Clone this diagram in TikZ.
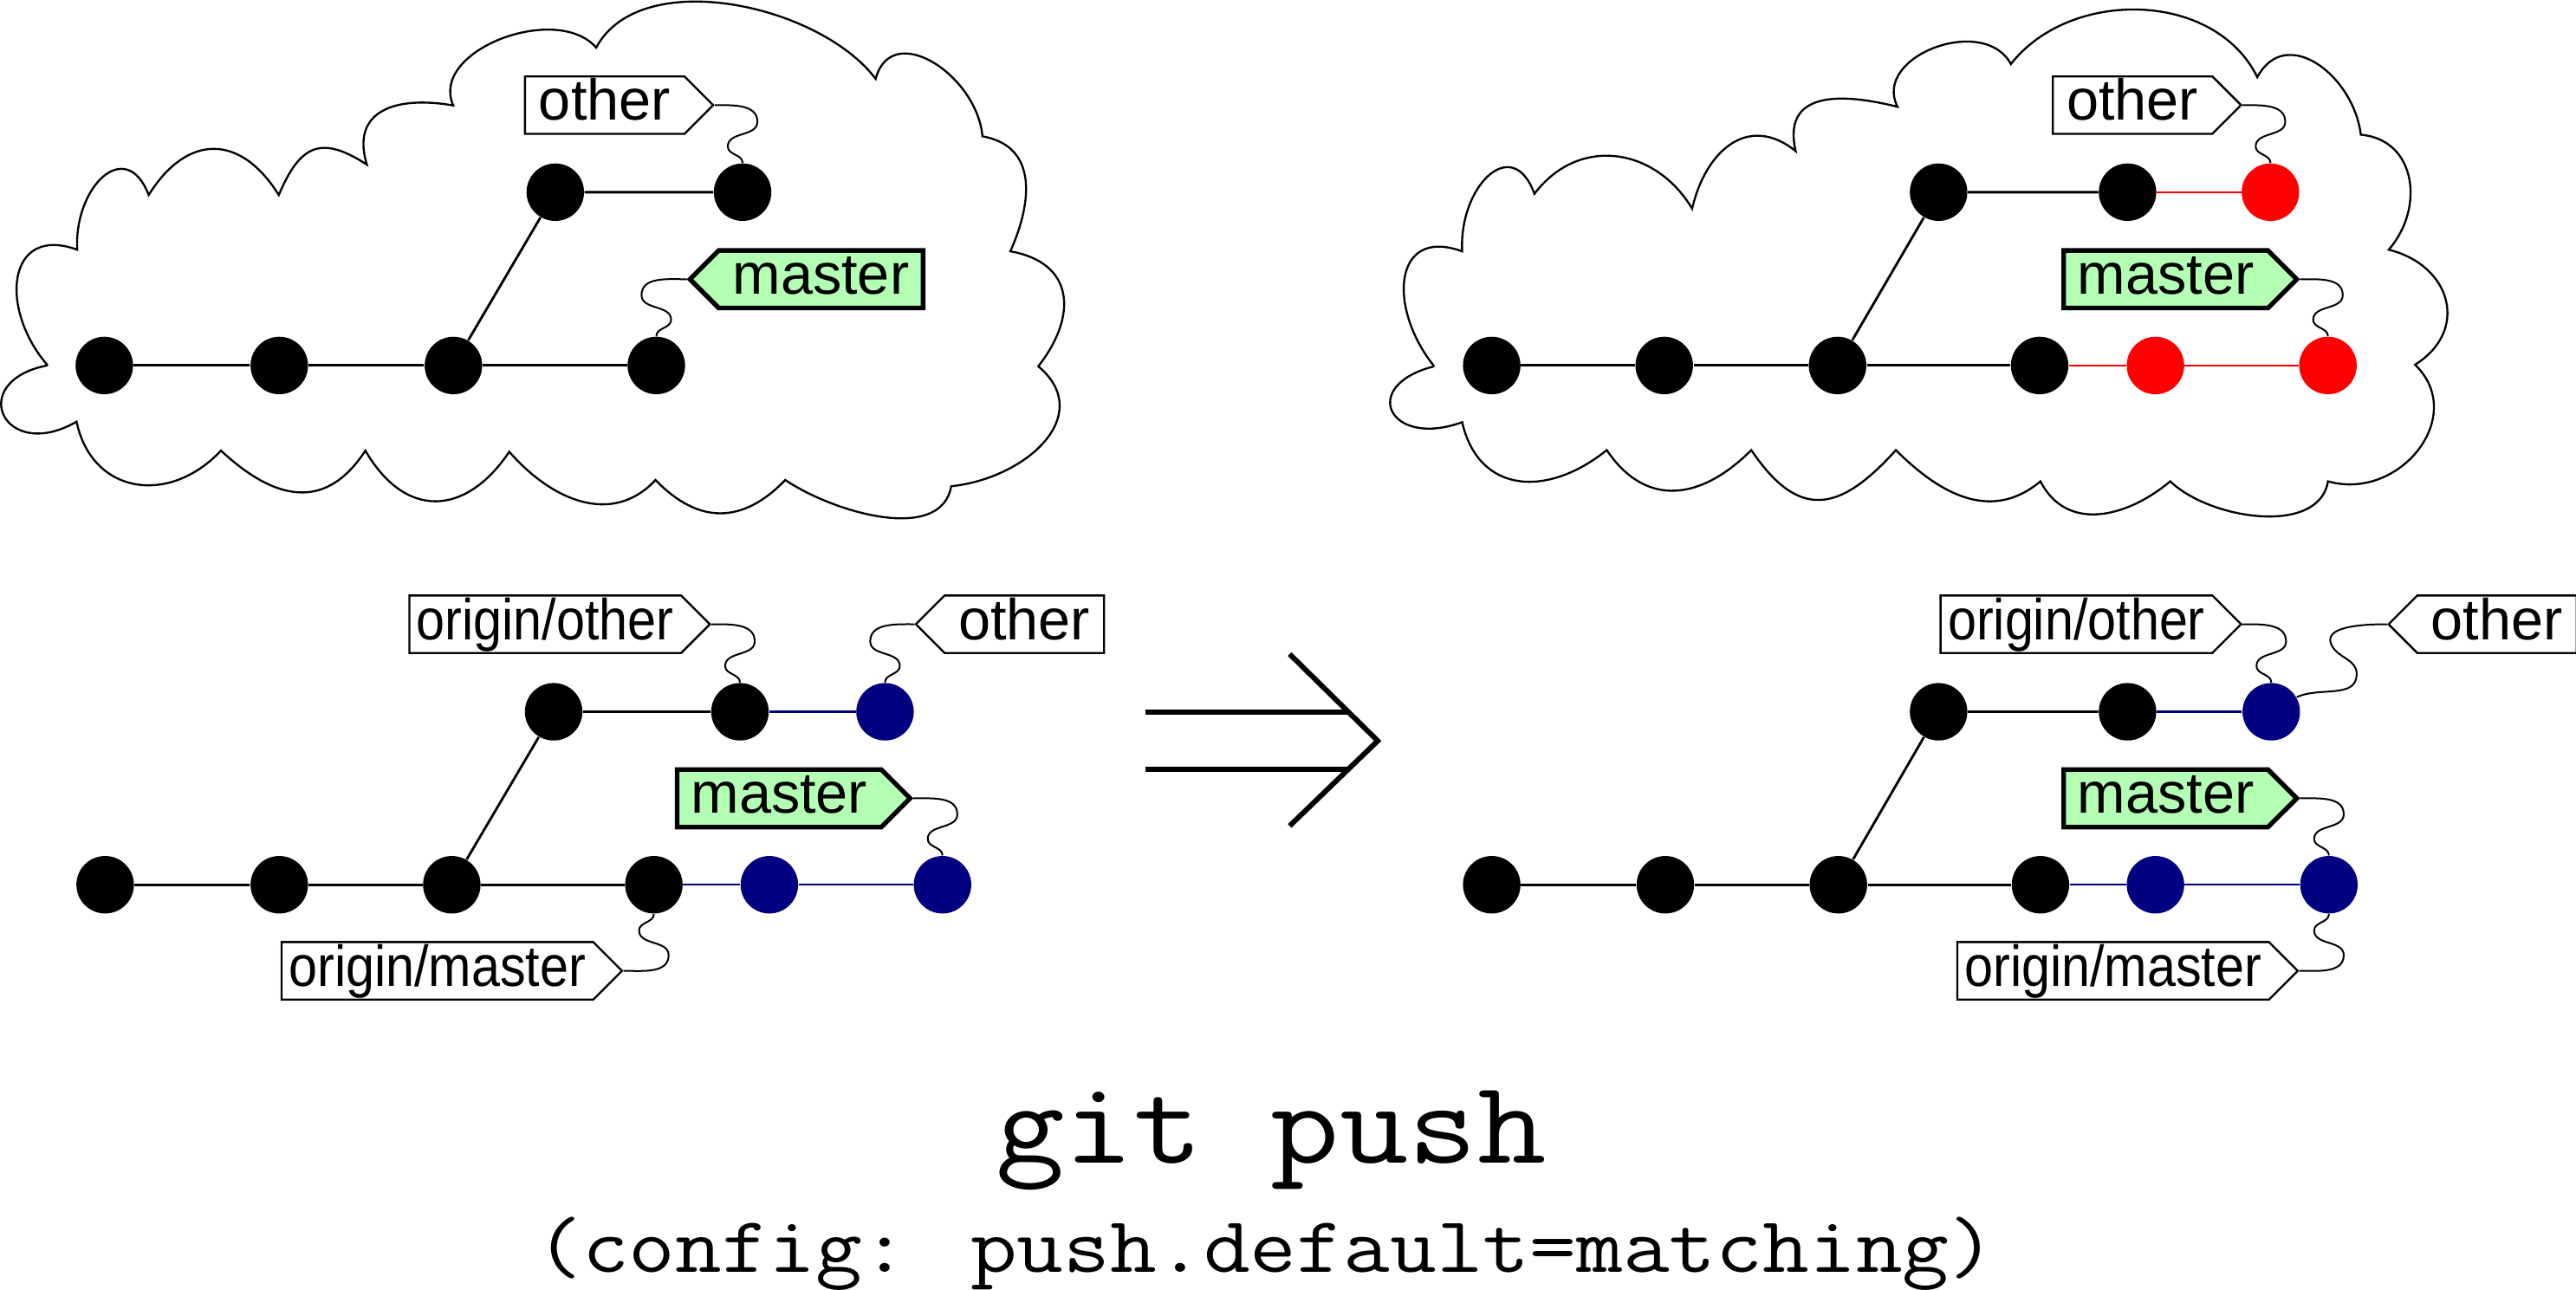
\documentclass[tikz,border=0pt]{standalone}
\usepackage{fontspec}
\usepackage{graphicx}
\usetikzlibrary{shapes.symbols,calc}
\newfontfamily\lblfont{Liberation Sans}
\definecolor{headgreen}{RGB}{179,255,179}
\definecolor{pushnavy}{RGB}{0,0,128}
\definecolor{newred}{RGB}{255,0,0}
\tikzset{
  commit/.style={circle,fill=black,inner sep=0pt,minimum size=0.7cm},
  lbl/.style={signal,draw,fill=white,line width=0.7pt,inner xsep=0.17cm,inner ysep=0pt,
    minimum height=0.7cm,text height=14.5pt,text depth=4pt,font=\lblfont\fontsize{20}{24}\selectfont},
  head/.style={lbl,fill=headgreen,line width=1.6pt},
  wire/.style={line width=0.6pt},
  edge/.style={line width=0.85pt},
  cloudline/.style={line width=0.7pt},
  lobe/.style n args={3}{out=#1,in=#2,looseness=#3},
}
\newcommand{\orig}[1]{\scalebox{0.89}[1]{#1}}
\newcommand{\tagright}[2]{\draw[wire] (#1.east) to[out=0,in=90] ($(#2.north)+(9,25)$)
  to[out=-90,in=90] ($(#2.north)+(-9,10)$) to[out=-90,in=90] (#2.north);}
\newcommand{\tagleft}[2]{\draw[wire] (#1.west) to[out=180,in=90] ($(#2.north)+(-9,25)$)
  to[out=-90,in=90] ($(#2.north)+(9,10)$) to[out=-90,in=90] (#2.north);}
\newcommand{\tagbelow}[2]{\draw[wire] (#2.south) to[out=-90,in=90] ($(#2.south)+(-9,-10)$)
  to[out=-90,in=90] ($(#2.south)+(9,-25)$) to[out=-90,in=0] (#1.east);}
\begin{document}
\begin{tikzpicture}[x=0.02cm,y=0.02cm]
\useasboundingbox (0,0) rectangle (1568,-785.3);
% remote, before
\draw[cloudline] (29,-222.4) to[lobe={131}{160}{1.6}] (47,-152) to[lobe={93}{111}{1.8}] (90.5,-118.7)
  to[lobe={58}{122}{1.43}] (169.7,-118.7) to[lobe={67}{147}{1.5}] (223.3,-100.2)
  to[lobe={107}{170}{1.4}] (275.9,-64.2) to[lobe={114}{131}{1}] (362.9,-29)
  to[lobe={62}{127}{0.85}] (533,-48) to[lobe={75}{95}{1.3}] (598,-83)
  to[lobe={-10}{66}{1.2}] (615,-153) to[lobe={-10}{52}{1.4}] (632,-223)
  to[lobe={-40}{6}{1.3}] (579,-296) to[lobe={-100}{-34}{0.9}] (478,-292.2)
  to[lobe={-134}{-46}{1.22}] (399,-292.2) to[lobe={-133}{-49}{1.1}] (310,-275)
  to[lobe={-124}{-60}{1.4}] (222.4,-274.3) to[lobe={-123}{-43}{1.3}] (134.5,-274.3)
  to[lobe={-133}{-78}{1.3}] (46.6,-256.7) to[lobe={-150}{-169}{3.4}] (29,-222.4);
% remote, after
\draw[cloudline] (873,-223) to[lobe={129}{160}{1.6}] (890,-153) to[lobe={93}{110}{1.8}] (934,-118)
  to[lobe={53}{121}{1.17}] (1030,-127) to[lobe={77}{141}{1.3}] (1093,-92)
  to[lobe={103}{166}{1.4}] (1155,-65) to[lobe={117}{118}{1.2}] (1224,-39)
  to[lobe={52}{116}{1.0}] (1374,-47) to[lobe={62}{97}{1.3}] (1437,-82)
  to[lobe={-5}{49}{1.2}] (1454,-152) to[lobe={-14}{32}{1.4}] (1470,-222)
  to[lobe={-44}{-16}{1.3}] (1417,-293) to[lobe={-99}{-44}{0.9}] (1321,-293)
  to[lobe={-140}{-63}{1.13}] (1242,-293) to[lobe={-140}{-45}{1.1}] (1154,-274)
  to[lobe={-132}{-56}{1.5}] (1066,-274) to[lobe={-135}{-56}{1.25}] (978,-274)
  to[lobe={-141}{-77}{1.3}] (890,-257) to[lobe={-160}{-166}{3.2}] (873,-223);

\node[commit] (tla1) at (63.5,-222.5) {};
\node[commit] (tla2) at (170,-222.5) {};
\node[commit] (tla3) at (276,-222.5) {};
\node[commit] (tla4) at (399.5,-222.5) {};
\node[commit] (tlb1) at (338,-117) {};
\node[commit] (tlb2) at (452,-117) {};
\draw[edge] (tla1) -- (tla2) -- (tla3) -- (tla4);
\draw[edge] (tla3) -- (tlb1) -- (tlb2);
\node[lbl,signal to=east,anchor=east] (tlother) at (435,-64) {other};
\node[head,signal to=west,anchor=west] (tlmaster) at (418,-170) {master};
\tagright{tlother}{tlb2}
\tagleft{tlmaster}{tla4}

\node[commit] (tra1) at (908,-222.5) {};
\node[commit] (tra2) at (1013,-222.5) {};
\node[commit] (tra3) at (1118.5,-222.5) {};
\node[commit] (tra4) at (1241.5,-222.5) {};
\node[commit,fill=newred] (tra5) at (1312,-222.5) {};
\node[commit,fill=newred] (tra6) at (1417,-222.5) {};
\node[commit] (trb1) at (1180,-117) {};
\node[commit] (trb2) at (1295,-117) {};
\node[commit,fill=newred] (trb3) at (1382,-117) {};
\draw[edge] (tra1) -- (tra2) -- (tra3) -- (tra4);
\draw[edge] (tra3) -- (trb1) -- (trb2);
\draw[line width=0.7pt,newred] (tra4) -- (tra5) -- (tra6);
\draw[line width=0.7pt,newred] (trb2) -- (trb3);
\node[lbl,signal to=east,anchor=east] (trother) at (1365,-64) {other};
\node[head,signal to=east,anchor=east] (trmaster) at (1400,-170) {master};
\tagright{trother}{trb3}
\tagright{trmaster}{tra6}

% local, before
\node[commit] (bla1) at (64,-538.6) {};
\node[commit] (bla2) at (170,-538.6) {};
\node[commit] (bla3) at (275,-538.6) {};
\node[commit] (bla4) at (398,-538.6) {};
\node[commit,fill=pushnavy] (bla5) at (468.3,-538.6) {};
\node[commit,fill=pushnavy] (bla6) at (573.7,-538.6) {};
\node[commit] (blb1) at (337,-433.3) {};
\node[commit] (blb2) at (450.4,-433.3) {};
\node[commit,fill=pushnavy] (blb3) at (538.7,-433.3) {};
\draw[edge] (bla1) -- (bla2) -- (bla3) -- (bla4);
\draw[edge] (bla3) -- (blb1) -- (blb2);
\draw[line width=0.7pt,pushnavy] (bla4) -- (bla5) -- (bla6);
\draw[line width=0.7pt,pushnavy] (blb2) -- (blb3);
\node[lbl,signal to=east,anchor=east,inner xsep=0.09cm] (blorigother) at (433,-380) {\orig{origin/other}};
\node[lbl,signal to=west,anchor=west] (blother) at (556.6,-380) {other};
\node[head,signal to=east,anchor=east] (blmaster) at (556,-486) {master};
\node[lbl,signal to=east,anchor=east,inner xsep=0.09cm] (blorigmaster) at (379.5,-591) {\orig{origin/master}};
\tagright{blorigother}{blb2}
\tagleft{blother}{blb3}
\tagright{blmaster}{bla6}
\tagbelow{blorigmaster}{bla4}

% local, after
\node[commit] (bra1) at (908,-538.6) {};
\node[commit] (bra2) at (1013.7,-538.6) {};
\node[commit] (bra3) at (1119,-538.6) {};
\node[commit] (bra4) at (1242,-538.6) {};
\node[commit,fill=pushnavy] (bra5) at (1312,-538.6) {};
\node[commit,fill=pushnavy] (bra6) at (1417.6,-538.6) {};
\node[commit] (brb1) at (1180,-433.3) {};
\node[commit] (brb2) at (1295,-433.3) {};
\node[commit,fill=pushnavy] (brb3) at (1382.5,-433.3) {};
\draw[edge] (bra1) -- (bra2) -- (bra3) -- (bra4);
\draw[edge] (bra3) -- (brb1) -- (brb2);
\draw[line width=0.7pt,pushnavy] (bra4) -- (bra5) -- (bra6);
\draw[line width=0.7pt,pushnavy] (brb2) -- (brb3);
\node[lbl,signal to=east,anchor=east,inner xsep=0.09cm] (brorigother) at (1365,-380) {\orig{origin/other}};
\node[lbl,signal to=west,anchor=west] (brother) at (1453,-380) {other};
\node[head,signal to=east,anchor=east] (brmaster) at (1400,-486) {master};
\node[lbl,signal to=east,anchor=east,inner xsep=0.09cm] (brorigmaster) at (1399.5,-591) {\orig{origin/master}};
\tagright{brorigother}{brb3}
\draw[wire] (brother.west) to[out=180,in=120] ($(brb3.center)+(37,40)$)
  to[out=-60,in=90] ($(brb3.center)+(52,23)$) to[out=-90,in=25] (brb3.30);
\tagright{brmaster}{bra6}
\tagbelow{brorigmaster}{bra6}

% the push
\draw[line width=1.8pt] (697,-433.4) -- (820.7,-433.4);
\draw[line width=1.8pt] (697,-468.5) -- (820.7,-468.5);
\draw[line width=1.8pt] (785,-398.2) -- (838.6,-451) -- (785,-502.8);
\node[anchor=base,font=\ttfamily\fontsize{41}{48}\selectfont] (title) at (773.7,-708.2) {\scalebox{1.13}[1]{git push}};
\node[anchor=base,font=\ttfamily\fontsize{27.5}{32}\selectfont] (subtitle) at (770.5,-774.7) {\scalebox{1.14}[1]{(config: push.default=matching)}};
\end{tikzpicture}
\end{document}
